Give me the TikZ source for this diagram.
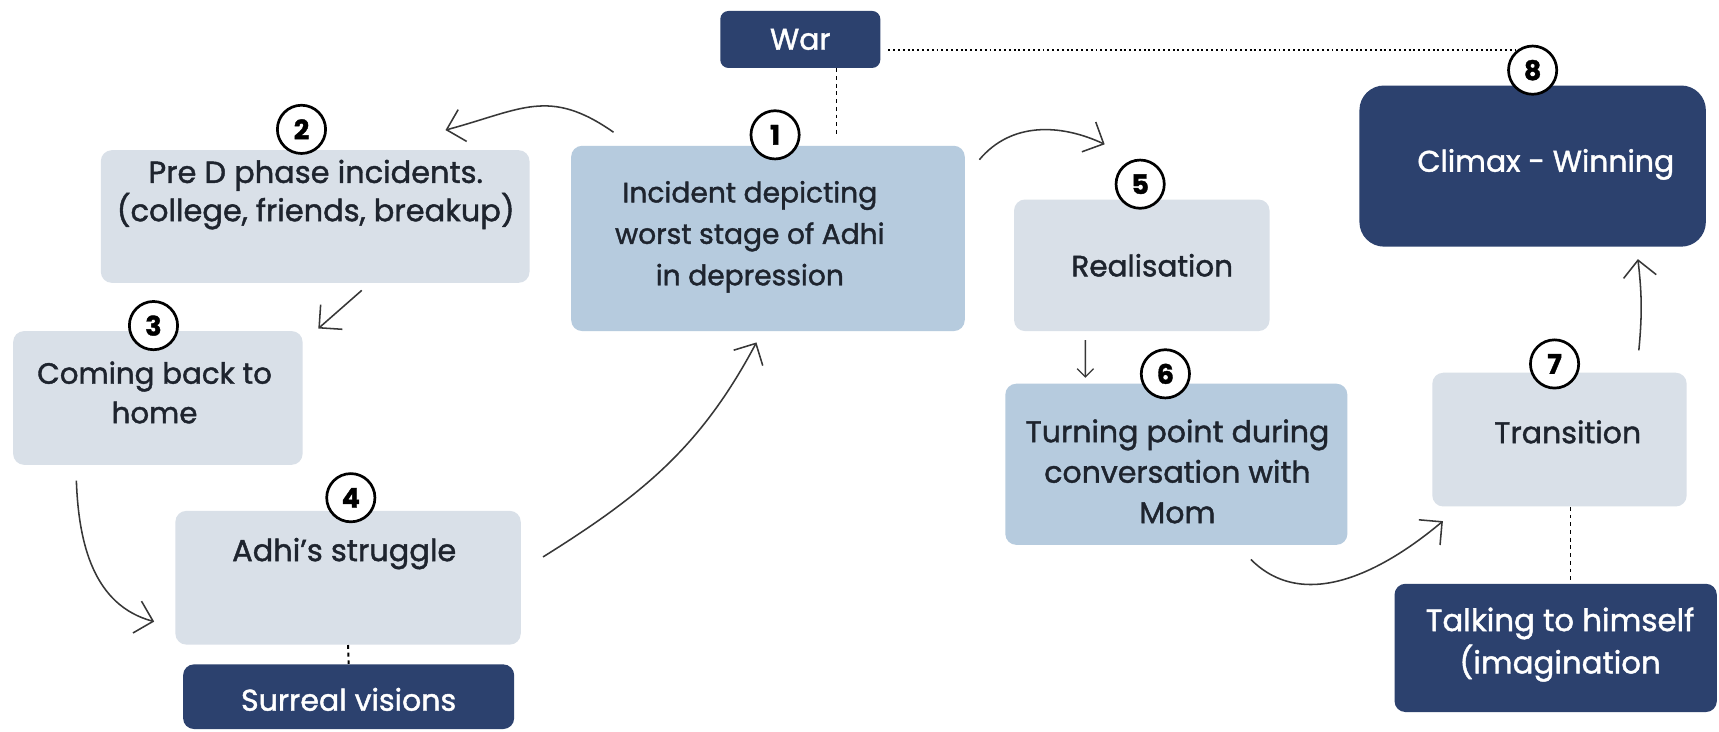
\documentclass[tikz,border=0pt]{standalone}
\usepackage{fontspec}
\setmainfont{Poppins}[FakeBold=1.4]
\usetikzlibrary{arrows.meta}

\definecolor{panelgrey}{RGB}{217,224,232}
\definecolor{panelblue}{RGB}{182,203,222}
\definecolor{panelnavy}{RGB}{44,65,110}
\definecolor{inkdark}{RGB}{30,36,46}
\definecolor{pencil}{RGB}{55,55,55}

\tikzset{
  greypanel/.style={fill=panelgrey, rounded corners=0.2cm, inner sep=0pt},
  bluepanel/.style={fill=panelblue, rounded corners=0.2cm, inner sep=0pt},
  navypanel/.style={fill=panelnavy, rounded corners=0.2cm, inner sep=0pt},
  paneltext/.style={align=center, text=inkdark, inner sep=0pt},
  navytext/.style={align=center, text=white, inner sep=0pt},
  stepnum/.style={circle, draw=black, fill=white, line width=1.4pt,
    minimum size=0.88cm, inner sep=0pt, font=\fontsize{14}{14}\selectfont\bfseries},
  flow/.style={draw=pencil, line width=0.8pt, -{Straight Barb[length=3mm,width=6mm]}},
  smallflow/.style={draw=pencil, line width=0.7pt, -{Straight Barb[length=1.5mm,width=3mm]}},
  dotlink/.style={draw=black, line width=1pt, dash pattern=on 1pt off 1.5pt},
  dashlink/.style={draw=black, line width=1pt, dash pattern=on 2pt off 2pt}
}

\begin{document}
\begin{tikzpicture}[x=1cm,y=1cm]
  \useasboundingbox (0,0) rectangle (31.36,13.34);
  \fill[white] (0,0) rectangle (31.36,13.34);

  % Panels
  \node[navypanel, minimum width=2.92cm, minimum height=1.04cm, rounded corners=0.15cm] (war) at (14.60,12.62) {};
  \node[bluepanel, minimum width=7.18cm, minimum height=3.38cm] (box1) at (14.01,8.99) {};
  \node[greypanel, minimum width=7.82cm, minimum height=2.42cm] (box2) at (5.75,9.39) {};
  \node[greypanel, minimum width=5.28cm, minimum height=2.44cm] (box3) at (2.88,6.08) {};
  \node[greypanel, minimum width=6.30cm, minimum height=2.44cm] (box4) at (6.35,2.80) {};
  \node[navypanel, minimum width=6.04cm, minimum height=1.18cm] (surreal) at (6.36,0.63) {};
  \node[greypanel, minimum width=4.66cm, minimum height=2.40cm] (box5) at (20.83,8.50) {};
  \node[bluepanel, minimum width=6.24cm, minimum height=2.94cm] (box6) at (21.46,4.87) {};
  \node[greypanel, minimum width=4.64cm, minimum height=2.44cm] (box7) at (28.45,5.32) {};
  \node[navypanel, minimum width=5.88cm, minimum height=2.34cm] (talk) at (28.38,1.52) {};
  \node[navypanel, minimum width=6.32cm, minimum height=2.94cm, rounded corners=0.45cm] (box8) at (27.96,10.31) {};

  % Panel texts
  \node[navytext, font=\fontsize{15.5}{18}\selectfont] (warlbl) at (14.60,12.62) {War};
  \node[paneltext, font=\fontsize{14.6}{21.5}\selectfont] (t1) at (13.68,9.02) {Incident depicting\\worst stage of Adhi\\in depression};
  \node[paneltext, font=\fontsize{15.8}{16.5}\selectfont] (t2) at (5.76,9.79) {Pre D phase incidents.\\(college, friends, breakup)};
  \node[paneltext, font=\fontsize{15.2}{20.5}\selectfont] (t3) at (2.82,6.18) {Coming back to\\home};
  \node[paneltext, font=\fontsize{15.8}{18}\selectfont] (t4) at (6.28,3.24) {Adhi’s struggle};
  \node[navytext, font=\fontsize{15.6}{18}\selectfont] (t4b) at (6.36,0.58) {Surreal visions};
  \node[paneltext, font=\fontsize{15.3}{18}\selectfont] (t5) at (21.02,8.50) {Realisation};
  \node[paneltext, font=\fontsize{15.6}{21}\selectfont] (t6) at (21.48,4.74) {Turning point during\\conversation with\\Mom};
  \node[paneltext, font=\fontsize{15.6}{18}\selectfont] (t7) at (28.60,5.46) {Transition};
  \node[navytext, font=\fontsize{16}{22}\selectfont] (t7b) at (28.46,1.58) {Talking to himself\\(imagination};
  \node[navytext, font=\fontsize{15.5}{18}\selectfont] (t8) at (28.20,10.34) {Climax - Winning};

  % Step numbers
  \node[stepnum] (c1) at (14.14,10.88) {1};
  \node[stepnum] (c2) at (5.50,10.98) {2};
  \node[stepnum] (c3) at (2.80,7.40) {3};
  \node[stepnum] (c4) at (6.40,4.26) {4};
  \node[stepnum] (c5) at (20.80,9.98) {5};
  \node[stepnum] (c6) at (21.26,6.52) {6};
  \node[stepnum] (c7) at (28.36,6.70) {7};
  \node[stepnum] (c8) at (27.96,12.06) {8};

  % Dotted links
  \draw[dotlink, shorten <=0.14cm] (war.east |- c8.128) -- (c8.128);
  \draw[dashlink, shorten >=0.16cm] ([xshift=0.66cm]war.south) -- ([xshift=0.66cm]war.south |- box1.north);
  \draw[dashlink] (box4.south) -- (surreal.north);
  \draw[dashlink] ([xshift=0.2cm]box7.south) -- ([xshift=0.2cm]box7.south |- talk.north);

  % Story arrows
  \draw[flow] ([xshift=0.78cm,yshift=0.24cm]box1.north west) to[out=145,in=15,looseness=1.2] ([xshift=-1.54cm,yshift=0.36cm]box2.north east);
  \draw[flow] ([xshift=0.85cm,yshift=-0.13cm]box2.south) -- ([xshift=0.28cm,yshift=0.04cm]box3.north east);
  \draw[flow] ([xshift=1.16cm,yshift=-0.28cm]box3.south west) to[out=-88,in=165] ([xshift=-0.38cm,yshift=-0.80cm]box4.west);
  \draw[flow] ([xshift=0.40cm,yshift=0.38cm]box4.east) to[out=32,in=-118] ([xshift=-0.21cm,yshift=-0.20cm]box1.south);
  \draw[flow] ([xshift=0.26cm,yshift=-0.26cm]box1.north east) to[out=50,in=155] ([xshift=1.66cm,yshift=1.00cm]box5.north west);
  \draw[smallflow] ([xshift=-1.03cm,yshift=-0.16cm]box5.south) -- ([xshift=-1.66cm,yshift=0.10cm]box6.north);
  \draw[flow] ([xshift=1.36cm,yshift=-0.26cm]box6.south) to[out=-45,in=-140] ([xshift=0.20cm,yshift=-0.26cm]box7.south west);
  \draw[flow] ([xshift=-0.88cm,yshift=0.40cm]box7.north east) to[bend right=6] ([xshift=1.92cm,yshift=-0.22cm]box8.south);
\end{tikzpicture}
\end{document}
